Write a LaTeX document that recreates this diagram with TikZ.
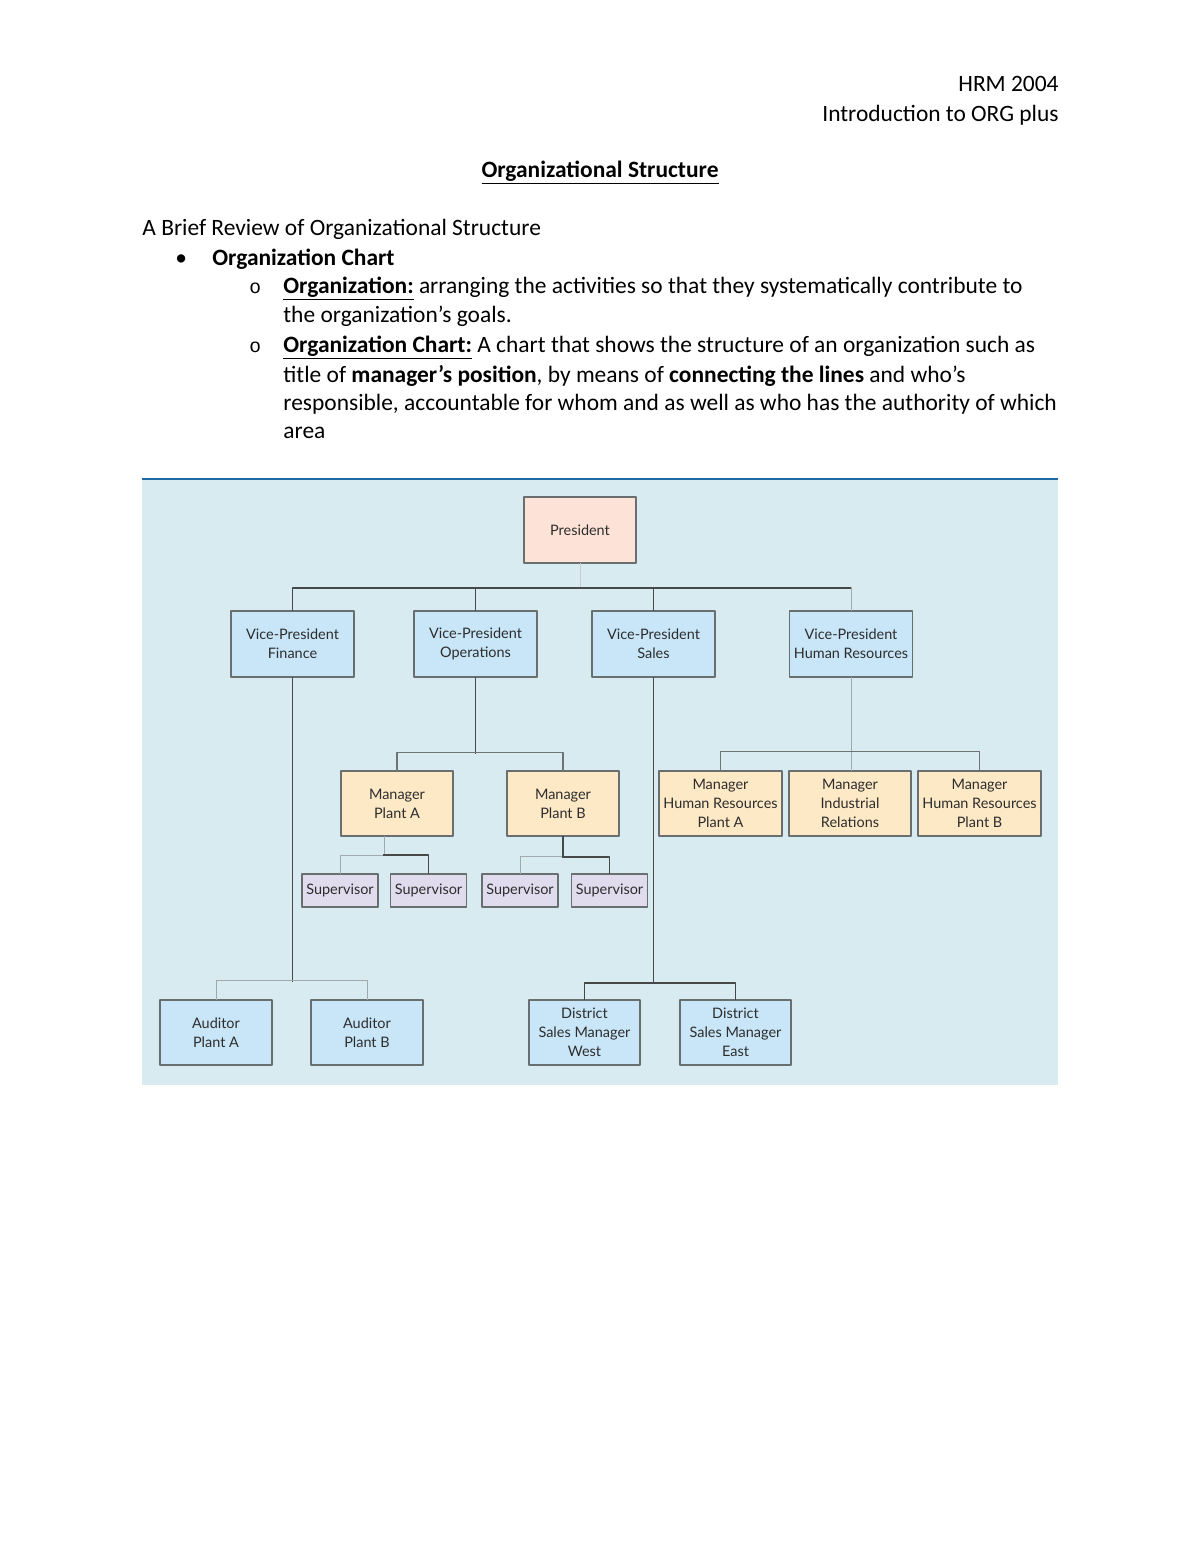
\documentclass[tikz,border=0pt]{standalone}
\usepackage{fontspec}
\setmainfont{Carlito}
\newfontfamily\chartfont{Lato}
\newfontfamily\markfont{Liberation Mono}
\usetikzlibrary{calc}

\definecolor{panel}{RGB}{215,235,240}
\definecolor{topblue}{RGB}{30,104,164}
\definecolor{vpblue}{RGB}{200,230,247}
\definecolor{prespink}{RGB}{253,226,216}
\definecolor{mgrorange}{RGB}{253,233,198}
\definecolor{suplilac}{RGB}{224,220,238}
\definecolor{boxline}{RGB}{105,110,112}
\definecolor{chartink}{RGB}{45,45,45}
\definecolor{linedark}{RGB}{70,72,74}
\definecolor{linemid}{RGB}{110,114,116}
\definecolor{linelight}{RGB}{160,170,174}

\tikzset{
  txt/.style={inner sep=0pt, anchor=base west, font=\fontsize{12}{14}\selectfont},
  box/.style={draw=boxline, line width=0.7pt, align=center, inner sep=0pt,
    text=chartink, font=\chartfont\fontsize{7.4}{9.7}\selectfont},
  presbox/.style={box, fill=prespink, minimum width=112*0.5118pt, minimum height=66*0.5118pt},
  vpbox/.style={box, fill=vpblue, minimum width=123*0.5118pt, minimum height=66*0.5118pt},
  lowbox/.style={box, fill=vpblue, minimum width=112*0.5118pt, minimum height=65*0.5118pt},
  mgrbox/.style={box, fill=mgrorange, minimum width=112*0.5118pt, minimum height=65*0.5118pt},
  hrbox/.style={box, fill=mgrorange, minimum width=123*0.5118pt, minimum height=65*0.5118pt},
  supbox/.style={box, fill=suplilac, minimum width=76*0.5118pt, minimum height=33*0.5118pt},
  dark/.style={draw=linedark, line width=1pt},
  mid/.style={draw=linemid, line width=0.8pt},
  light/.style={draw=linelight, line width=0.5pt},
}

\begin{document}
\begin{tikzpicture}[x=0.5118pt, y=-0.5118pt, line join=round, line cap=rect]
\useasboundingbox (0,0) rectangle (1200,1553);
%\draw[gray!50] (0,0) grid[step=100] (1200,1553);

% header
\node[txt, anchor=base east] (course) at (1059,91) {HRM 2004};
\node[txt, anchor=base east] (subtitle) at (1059,121) {Introduction to ORG plus};
\node[txt, anchor=base] (title) at (600,177) {\underline{\textbf{Organizational Structure}}};
\node[txt] (review) at (142,235) {A Brief Review of Organizational Structure};
\node[txt] (dot) at (175,265) {\textbullet};
\node[txt] (chart) at (212,265) {\textbf{Organization Chart}};
\foreach \n/\y in {o1/293, o2/352}
  \node[txt, font=\markfont\fontsize{10}{12}\selectfont] (\n) at (249,\y) {o};
\node[txt] (def1) at (283,293) {\underline{\textbf{Organization:}} arranging the activities so that they systematically contribute to};
\node[txt] (def1b) at (283,322) {the organization’s goals.};
\node[txt] (def2) at (283,352) {\underline{\textbf{Organization Chart:}} A chart that shows the structure of an organization such as};
\node[txt] (def2b) at (283,382) {title of \textbf{manager’s position}, by means of \textbf{connecting the lines} and who’s};
\node[txt] (def2c) at (283,410) {responsible, accountable for whom and as well as who has the authority of which};
\node[txt] (def2d) at (283,438) {area};

% panel
\fill[panel] (142,479) rectangle (1058,1085);
\draw[topblue, line width=1.5pt, line cap=butt] (142,479) -- (1058,479);

% boxes
\node[presbox] (pres) at (580,530) {President};
\node[vpbox] (vpfin) at (292.5,644) {Vice-President\\Finance};
\node[vpbox] (vpops) at (475.5,644) {Vice-President\\Operations};
\node[vpbox] (vpsal) at (653.5,644) {Vice-President\\Sales};
\node[vpbox] (vphr) at (851,644) {Vice-President\\Human Resources};
\node[mgrbox] (mgra) at (397,803.5) {Manager\\Plant A};
\node[mgrbox] (mgrb) at (563,803.5) {Manager\\Plant B};
\node[hrbox] (hra) at (720.5,803.5) {Manager\\Human Resources\\Plant A};
\node[hrbox, minimum width=122*0.5118pt] (indrel) at (850,803.5) {Manager\\Industrial\\Relations};
\node[hrbox] (hrb) at (979.5,803.5) {Manager\\Human Resources\\Plant B};
\foreach \n/\x in {sup1/340, sup2/428.5, sup3/520, sup4/609.5}
  \node[supbox] (\n) at (\x,890.5) {Supervisor};
\node[lowbox] (auda) at (216,1032.5) {Auditor\\Plant A};
\node[lowbox] (audb) at (367,1032.5) {Auditor\\Plant B};
\node[lowbox, minimum width=111*0.5118pt] (dsmw) at (584.5,1032.5) {District\\Sales Manager\\West};
\node[lowbox, minimum width=111*0.5118pt] (dsme) at (735.5,1032.5) {District\\Sales Manager\\East};

% bus points
\path (pres.south) ++(0,24) coordinate (tb);
\path (vpops.south) ++(0,75) coordinate (ob);
\path ($(sup1.north)!.5!(sup2.north)$) ++(0,-18) coordinate (sa);
\path (mgrb.south) ++(0,20) coordinate (sb);
\path (vpfin.south) ++(0,303) coordinate (ab);
\path (vpsal.south) ++(0,305) coordinate (db);
\path (indrel.north) ++(0,-19) coordinate (hb);

% connectors
\draw[light, draw=linelight!60] (pres.south) -- (tb);
\draw[dark] (vpfin.north) |- (tb) -| (vpsal.north);
\draw[dark] (vpops.north) -- (vpops.north |- tb);
\draw[dark] (vpsal.north |- tb) -- (vphr.north |- tb);
\draw[light] (vphr.north |- tb) -- (vphr.north);
\draw[dark] (vpops.south) -- (ob);
\draw[mid] (mgra.north) |- (ob) -| (mgrb.north);
\draw[light] (mgra.south -| sa) -- (sa);
\draw[light] (sup1.north) |- (sa);
\draw[dark] (sa) -| (sup2.north);
\draw[dark] (mgrb.south) -- (sb);
\draw[light] (sup3.north) |- (sb);
\draw[dark] (sb) -| (sup4.north);
\draw[dark] (vpfin.south) -- (ab);
\draw[light] (auda.north) |- (ab) -| (audb.north);
\draw[dark] (vpsal.south) -- (db);
\draw[dark] (dsmw.north) |- (db) -| (dsme.north);
\draw[light] (vphr.south) -- (vphr.south |- indrel.north);
\draw[mid] (hra.north) |- (hb) -| (hrb.north);
\end{tikzpicture}
\end{document}
